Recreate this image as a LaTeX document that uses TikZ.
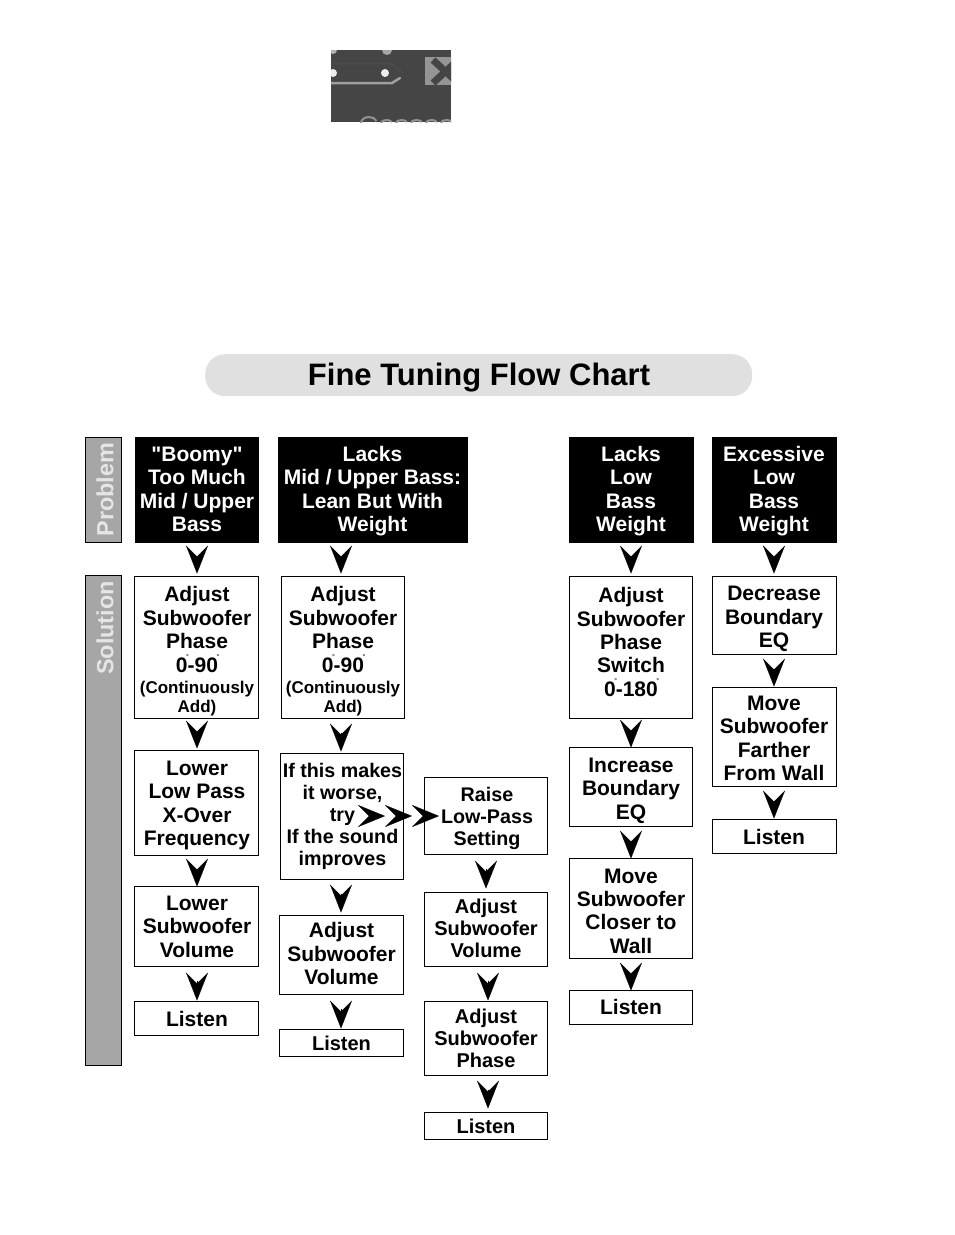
\documentclass[tikz,border=0pt]{standalone}
\usepackage{fontspec}
\setmainfont{Liberation Sans}
\newfontfamily\plainar{Liberation Sans}
\usetikzlibrary{arrows.meta}
\definecolor{panel}{HTML}{A6A6A6}
\definecolor{pill}{HTML}{E0E0E0}
\definecolor{shot}{HTML}{454545}
\newcommand\fa{\fontsize{21}{23.4}\selectfont\bfseries}
\newcommand\fb{\fontsize{20}{22}\selectfont\bfseries}
\newcommand\fd{\fontsize{19.7}{22}\selectfont\bfseries}
\newcommand\fc{\fontsize{17}{19}\selectfont\bfseries}
\newcommand\dg{\rlap{\raisebox{0.62em}{\fontsize{7}{7}\selectfont\mdseries\hspace{-1.5pt}°}}}
\tikzset{
  x=1pt,y=-1pt,
  boxw/.style={draw=black,line width=1pt,fill=white,inner sep=0pt,outer sep=0pt,anchor=north west},
  boxk/.style={draw=black,line width=1pt,fill=black,inner sep=0pt,outer sep=0pt,anchor=north west},
  txt/.style={align=center,inner sep=0pt,text=black},
  txtk/.style={align=center,inner sep=0pt,text=white},
  flow/.style={line width=0.2pt,shorten <=14pt,-{Stealth[length=28pt,width=22pt,inset=11pt]}},
  flowh/.style={line width=0.2pt,shorten <=14pt,-{Stealth[length=27pt,width=22pt,inset=11pt]}},
  side/.style={draw=black,line width=1pt,fill=panel,inner sep=0pt,outer sep=0pt,anchor=north west},
  sidet/.style={rotate=90,inner sep=0pt,text=white!90!black,font=\fontsize{23.4}{23.4}\selectfont\bfseries}
}
% name x0 y0 x1 y1 cx cy text; optional font
\newcommand\wb[9][\fa]{\node[boxw,minimum width=(#5-#3-1)*1pt,minimum height=(#6-#4-1)*1pt] (#2) at (#3+0.5,#4+0.5) {};
  \node[txt,font=#1] (#2t) at (#7,#8) {#9};}
\newcommand\kb[9][\fa]{\node[boxk,minimum width=(#5-#3-1)*1pt,minimum height=(#6-#4-1)*1pt] (#2) at (#3+0.5,#4+0.5) {};
  \node[txtk,font=#1] (#2t) at (#7,#8) {#9};}
\newcommand\flowto[4]{\draw[flow,shorten >=#4pt] (#1.south -| #3,0) -- (#2.north -| #3,0);}
\begin{document}
\begin{tikzpicture}
\useasboundingbox (0,0) rectangle (954,1235);
\fill[white] (0,0) rectangle (954,1235);
% screenshot fragment
\fill[shot] (331,50) rectangle (451,122);
\begin{scope}
\clip (331,50) rectangle (451,122);
\draw[gray!60!black,line width=1.5pt] (331,63.5) -- (391,63.5) -- (403,73);
\draw[gray!75,line width=2.5pt,line cap=round] (331,83) -- (392,83) -- (400,78);
\fill[white!85!gray] (385,73) circle (4);
\fill[white!85!gray] (333,73) circle (4);
\fill[gray!70] (387,50) circle (5);
\fill[gray!60] (333,50) circle (4);
\fill[gray!70!white!90!black] (425,57) rectangle (452,85);
\draw[shot,line width=7pt] (433,60) -- (458,83) (458,60) -- (433,83);
\draw[gray!85,line width=2pt] (361,123) arc (180:340:8 and 6) (381,123) arc (180:340:5.5 and 3) (396,123) arc (180:340:5.5 and 3) (411,123) arc (180:340:5.5 and 3) (426,123) arc (180:340:5.5 and 3) (441,123) arc (180:340:5.5 and 3);
\end{scope}
% title
\node[fill=pill,rounded corners=20pt,minimum width=547pt,minimum height=42pt,inner sep=0pt,anchor=north west] (title) at (205,354) {};
\node[inner sep=0pt,font=\fontsize{31}{31}\selectfont\bfseries] (titlet) at (479,378) {Fine Tuning Flow Chart};
% side panels
\node[side,minimum width=36pt,minimum height=105pt] (prob) at (85.5,437.5) {};
\node[sidet] (probt) at (105,489.5) {Problem};
\node[side,minimum width=36pt,minimum height=490pt] (sol) at (85.5,575.5) {};
\node[sidet] (solt) at (105,628) {Solution};
% headers
\kb{h1}{135}{437}{259}{543}{197}{489.5}{{\plainar"}Boomy{\plainar"}\\Too Much\\Mid / Upper\\Bass}
\kb{h2}{278}{437}{468}{543}{372.5}{491}{Lacks\\Mid / Upper Bass:\\Lean But With\\Weight}
\kb{h4}{569}{437}{694}{543}{631}{491}{Lacks\\Low\\Bass\\Weight}
\kb{h5}{712}{437}{837}{543}{774}{491}{Excessive\\Low\\Bass\\Weight}
% column 1
\wb{a1}{134}{576}{259}{719}{197}{651.5}{Adjust\\Subwoofer\\Phase\\0\dg-90\dg\\[-2pt]\fc (Continuously\\[-4pt]\fc Add)}
\wb{a2}{134}{750}{259}{856}{197}{805.5}{Lower\\Low Pass\\X-Over\\Frequency}
\wb{a3}{134}{886}{259}{967}{197}{926.5}{Lower\\Subwoofer\\Volume}
\wb{a4}{134}{1001}{259}{1036}{197}{1019}{Listen}
% column 2
\wb{b1}{281}{576}{405}{719}{343}{651.5}{Adjust\\Subwoofer\\Phase\\0\dg-90\dg\\[-2pt]\fc (Continuously\\[-4pt]\fc Add)}
\wb[\fd]{b2}{280}{753}{404}{880}{342.5}{816.5}{If this makes\\it worse,\\try\\If the sound\\improves}
\wb{b3}{279}{915}{404}{995}{341.5}{953.5}{Adjust\\Subwoofer\\Volume}
\wb[\fb]{b4}{279}{1029}{404}{1057}{341.5}{1043}{Listen}
% column 3
\wb[\fd]{c1}{424}{777}{548}{855}{487}{818}{Raise\\Low-Pass\\Setting}
\wb[\fb]{c2}{424}{892}{548}{967}{486}{928}{Adjust\\Subwoofer\\Volume}
\wb[\fb]{c3}{424}{1001}{548}{1076}{486}{1038}{Adjust\\Subwoofer\\Phase}
\wb[\fb]{c4}{424}{1112}{548}{1140}{486}{1126}{Listen}
% column 4
\wb{d1}{569}{576}{693}{719}{631}{642}{Adjust\\Subwoofer\\Phase\\Switch\\0\dg-180\dg}
\wb{d2}{569}{747}{693}{827}{631}{790.5}{Increase\\Boundary\\EQ}
\wb{d3}{569}{858}{693}{959}{631}{911}{Move\\Subwoofer\\Closer to\\Wall}
\wb{d4}{569}{990}{693}{1025}{631}{1007}{Listen}
% column 5
\wb{e1}{712}{576}{837}{655}{774}{619}{Decrease\\Boundary\\EQ}
\wb{e2}{712}{687}{837}{787}{774}{738.5}{Move\\Subwoofer\\Farther\\From Wall}
\wb{e3}{712}{819}{837}{854}{774}{837}{Listen}
% connectors
\flowto{h1}{a1}{197}{3}\flowto{a1}{a2}{197}{2}\flowto{a2}{a3}{197}{0}\flowto{a3}{a4}{197}{1}
\flowto{h2}{b1}{341}{3}\flowto{b1}{b2}{341}{2}\flowto{b2}{b3}{341}{3}\flowto{b3}{b4}{341}{1}
\flowto{c1}{c2}{486}{4}\flowto{c2}{c3}{488}{1}\flowto{c3}{c4}{488}{4}
\flowto{h4}{d1}{631}{3}\flowto{d1}{d2}{631}{0}\flowto{d2}{d3}{631}{0}\flowto{d3}{d4}{631}{0}
\flowto{h5}{e1}{774}{3}\flowto{e1}{e2}{774}{1}\flowto{e2}{e3}{774}{1}
\coordinate (r0) at (358,816);
\coordinate (r1) at (385,816);
\coordinate (r2) at (412,816);
\coordinate (r3) at (439,816);
\draw[flowh] (r0) -- (r1);
\draw[flowh] (r1) -- (r2);
\draw[flowh] (r2) -- (r3);
\end{tikzpicture}
\end{document}
